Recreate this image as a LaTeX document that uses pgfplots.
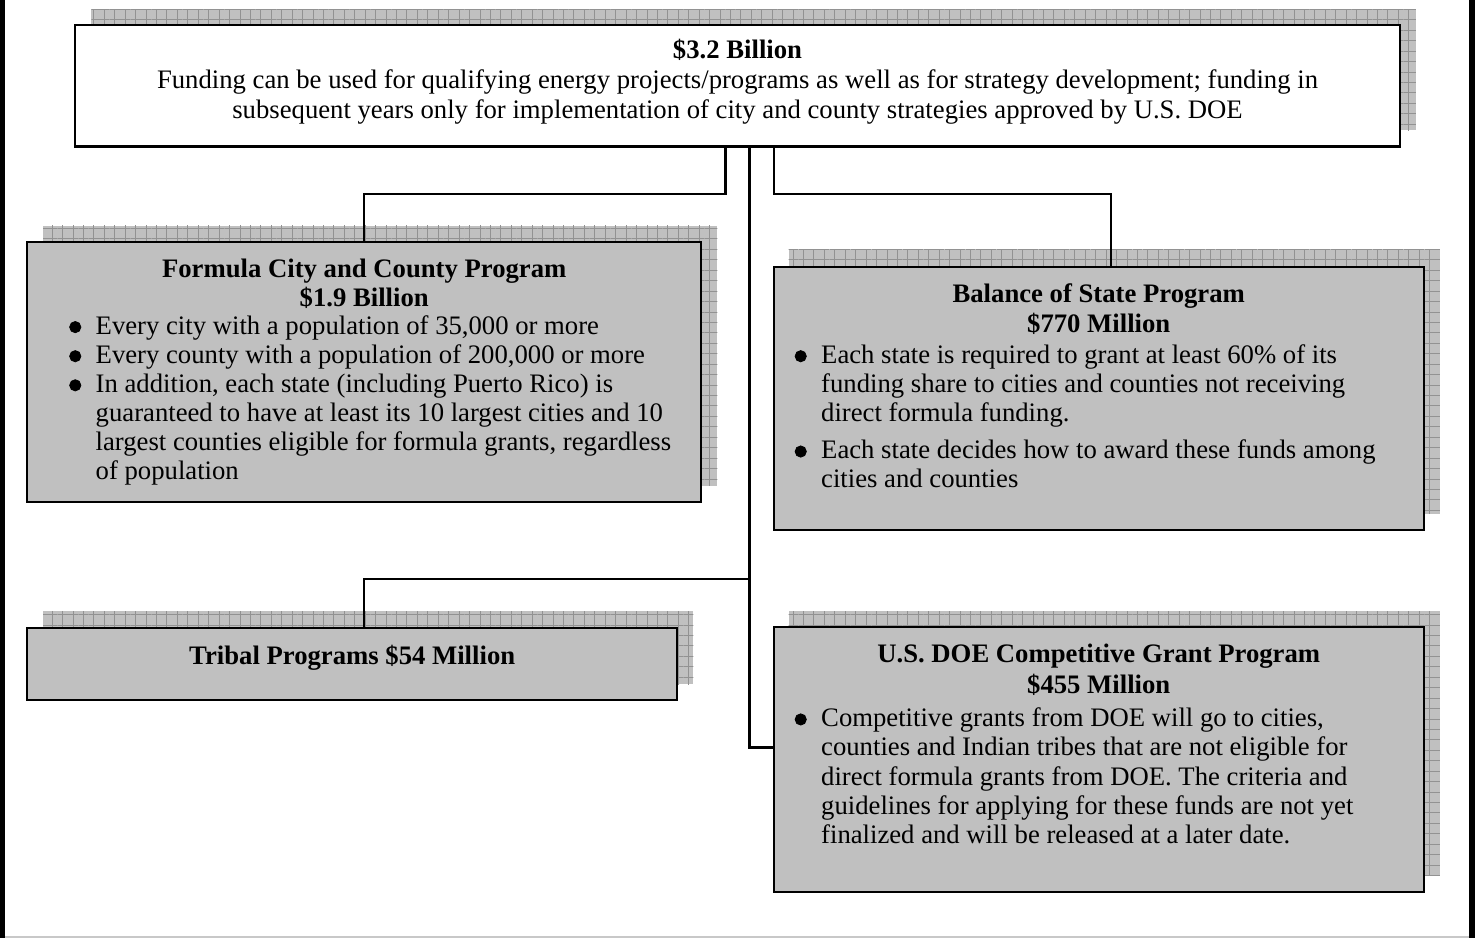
\documentclass[border=0pt]{standalone}
\usepackage{fontspec}
\setmainfont{Liberation Serif}
\usepackage{pgfplots}
\pgfplotsset{compat=1.18}
\usetikzlibrary{patterns.meta}
\definecolor{boxgray}{HTML}{C0C0C0}
\definecolor{shadowgray}{HTML}{C0C0C0}
\definecolor{gridgray}{HTML}{929292}
\definecolor{bottomgray}{HTML}{C8C8C8}
\tikzset{
  shadowfill/.style={draw=none, fill=shadowgray},
  shadowgrid/.style={draw=none, pattern={Hatch[angle=0,distance=5.2pt,line width=0.5pt]}, pattern color=gridgray},
  boxstyle/.style={draw=black, line width=1.1pt},
  conn/.style={draw=black, line width=1.1pt},
  txt/.style={inner sep=0pt, font=\fontsize{13.3}{15}\selectfont},
}
\begin{document}
\begin{tikzpicture}
\begin{axis}[
  width=737.5pt, height=467.5pt, scale only axis,
  xmin=0, xmax=1475, ymin=0, ymax=935, y dir=reverse,
  axis lines=none, clip=false,
  every axis plot/.append style={mark=none},
]
% page frame
\addplot[draw=none, fill=black] coordinates {(3,0) (8,0) (8,935) (3,935)} -- cycle;
\addplot[draw=none, fill=black] coordinates {(1467,0) (1473,0) (1473,935) (1467,935)} -- cycle;
\addplot[draw=bottomgray, line width=1pt] coordinates {(8,933.5) (1467,933.5)};

% shadows
\addplot[shadowfill] coordinates {(94,9) (1414,9) (1414,130) (94,130)} -- cycle;
\addplot[shadowgrid] coordinates {(94,9) (1414,9) (1414,130) (94,130)} -- cycle;
\addplot[shadowfill] coordinates {(46,225) (718,225) (718,484) (46,484)} -- cycle;
\addplot[shadowgrid] coordinates {(46,225) (718,225) (718,484) (46,484)} -- cycle;
\addplot[shadowfill] coordinates {(789,249) (1438,249) (1438,512) (789,512)} -- cycle;
\addplot[shadowgrid] coordinates {(789,249) (1438,249) (1438,512) (789,512)} -- cycle;
\addplot[shadowfill] coordinates {(46,609) (694,609) (694,682) (46,682)} -- cycle;
\addplot[shadowgrid] coordinates {(46,609) (694,609) (694,682) (46,682)} -- cycle;
\addplot[shadowfill] coordinates {(789,609) (1438,609) (1438,873) (789,873)} -- cycle;
\addplot[shadowgrid] coordinates {(789,609) (1438,609) (1438,873) (789,873)} -- cycle;

% connectors
\addplot[conn] coordinates {(726,145) (726,193) (366,193) (366,241)};
\addplot[conn] coordinates {(774,145) (774,193) (1110,193) (1110,266)};
\addplot[conn] coordinates {(750,145) (750,745) (774,745)};
\addplot[conn] coordinates {(750,577) (366,577) (366,626)};

% boxes
\addplot[boxstyle, fill=white] coordinates {(78,25) (1398,25) (1398,146) (78,146)} -- cycle;
\addplot[boxstyle, fill=boxgray] coordinates {(30,241) (702,241) (702,500) (30,500)} -- cycle;
\addplot[boxstyle, fill=boxgray] coordinates {(774,266) (1422,266) (1422,528) (774,528)} -- cycle;
\addplot[boxstyle, fill=boxgray] coordinates {(30,626) (678,626) (678,698) (30,698)} -- cycle;
\addplot[boxstyle, fill=boxgray] coordinates {(774,625) (1422,625) (1422,889) (774,889)} -- cycle;

% bullets
\addplot[only marks, mark=*, mark size=2.8pt, black] coordinates {
(78,326) (78,355) (78,384)
(801,355) (801,450)
(801,717)
};

% top box text
\node[txt, anchor=base] at (axis cs:738,58) {\bfseries \$3.2 Billion};
\node[txt, anchor=base] at (axis cs:738,88) {Funding can be used for qualifying energy projects/programs as well as for strategy development; funding in};
\node[txt, anchor=base] at (axis cs:738,118) {subsequent years only for implementation of city and county strategies approved by U.S. DOE};

% formula box text
\node[txt, anchor=base] at (axis cs:366,277) {\bfseries Formula City and County Program};
\node[txt, anchor=base] at (axis cs:366,305) {\bfseries \$1.9 Billion};
\node[txt, anchor=base west] at (axis cs:98,333) {Every city with a population of 35,000 or more};
\node[txt, anchor=base west] at (axis cs:98,362) {Every county with a population of 200,000 or more};
\node[txt, anchor=base west] at (axis cs:98,391) {In addition, each state (including Puerto Rico) is};
\node[txt, anchor=base west] at (axis cs:98,420) {guaranteed to have at least its 10 largest cities and 10};
\node[txt, anchor=base west] at (axis cs:98,449) {largest counties eligible for formula grants, regardless};
\node[txt, anchor=base west] at (axis cs:98,478) {of population};

% balance box text
\node[txt, anchor=base] at (axis cs:1098,301) {\bfseries Balance of State Program};
\node[txt, anchor=base] at (axis cs:1098,331) {\bfseries \$770 Million};
\node[txt, anchor=base west] at (axis cs:821,362) {Each state is required to grant at least 60\% of its};
\node[txt, anchor=base west] at (axis cs:821,391) {funding share to cities and counties not receiving};
\node[txt, anchor=base west] at (axis cs:821,420) {direct formula funding.};
\node[txt, anchor=base west] at (axis cs:821,457) {Each state decides how to award these funds among};
\node[txt, anchor=base west] at (axis cs:821,486) {cities and counties};

% tribal box text
\node[txt, anchor=base] at (axis cs:354,662) {\bfseries Tribal Programs \$54 Million};

% DOE box text
\node[txt, anchor=base] at (axis cs:1098,660) {\bfseries U.S. DOE Competitive Grant Program};
\node[txt, anchor=base] at (axis cs:1098,691) {\bfseries \$455 Million};
\node[txt, anchor=base west] at (axis cs:821,724) {Competitive grants from DOE will go to cities,};
\node[txt, anchor=base west] at (axis cs:821,753) {counties and Indian tribes that are not eligible for};
\node[txt, anchor=base west] at (axis cs:821,783) {direct formula grants from DOE. The criteria and};
\node[txt, anchor=base west] at (axis cs:821,812) {guidelines for applying for these funds are not yet};
\node[txt, anchor=base west] at (axis cs:821,841) {finalized and will be released at a later date.};
\end{axis}
\end{tikzpicture}
\end{document}
